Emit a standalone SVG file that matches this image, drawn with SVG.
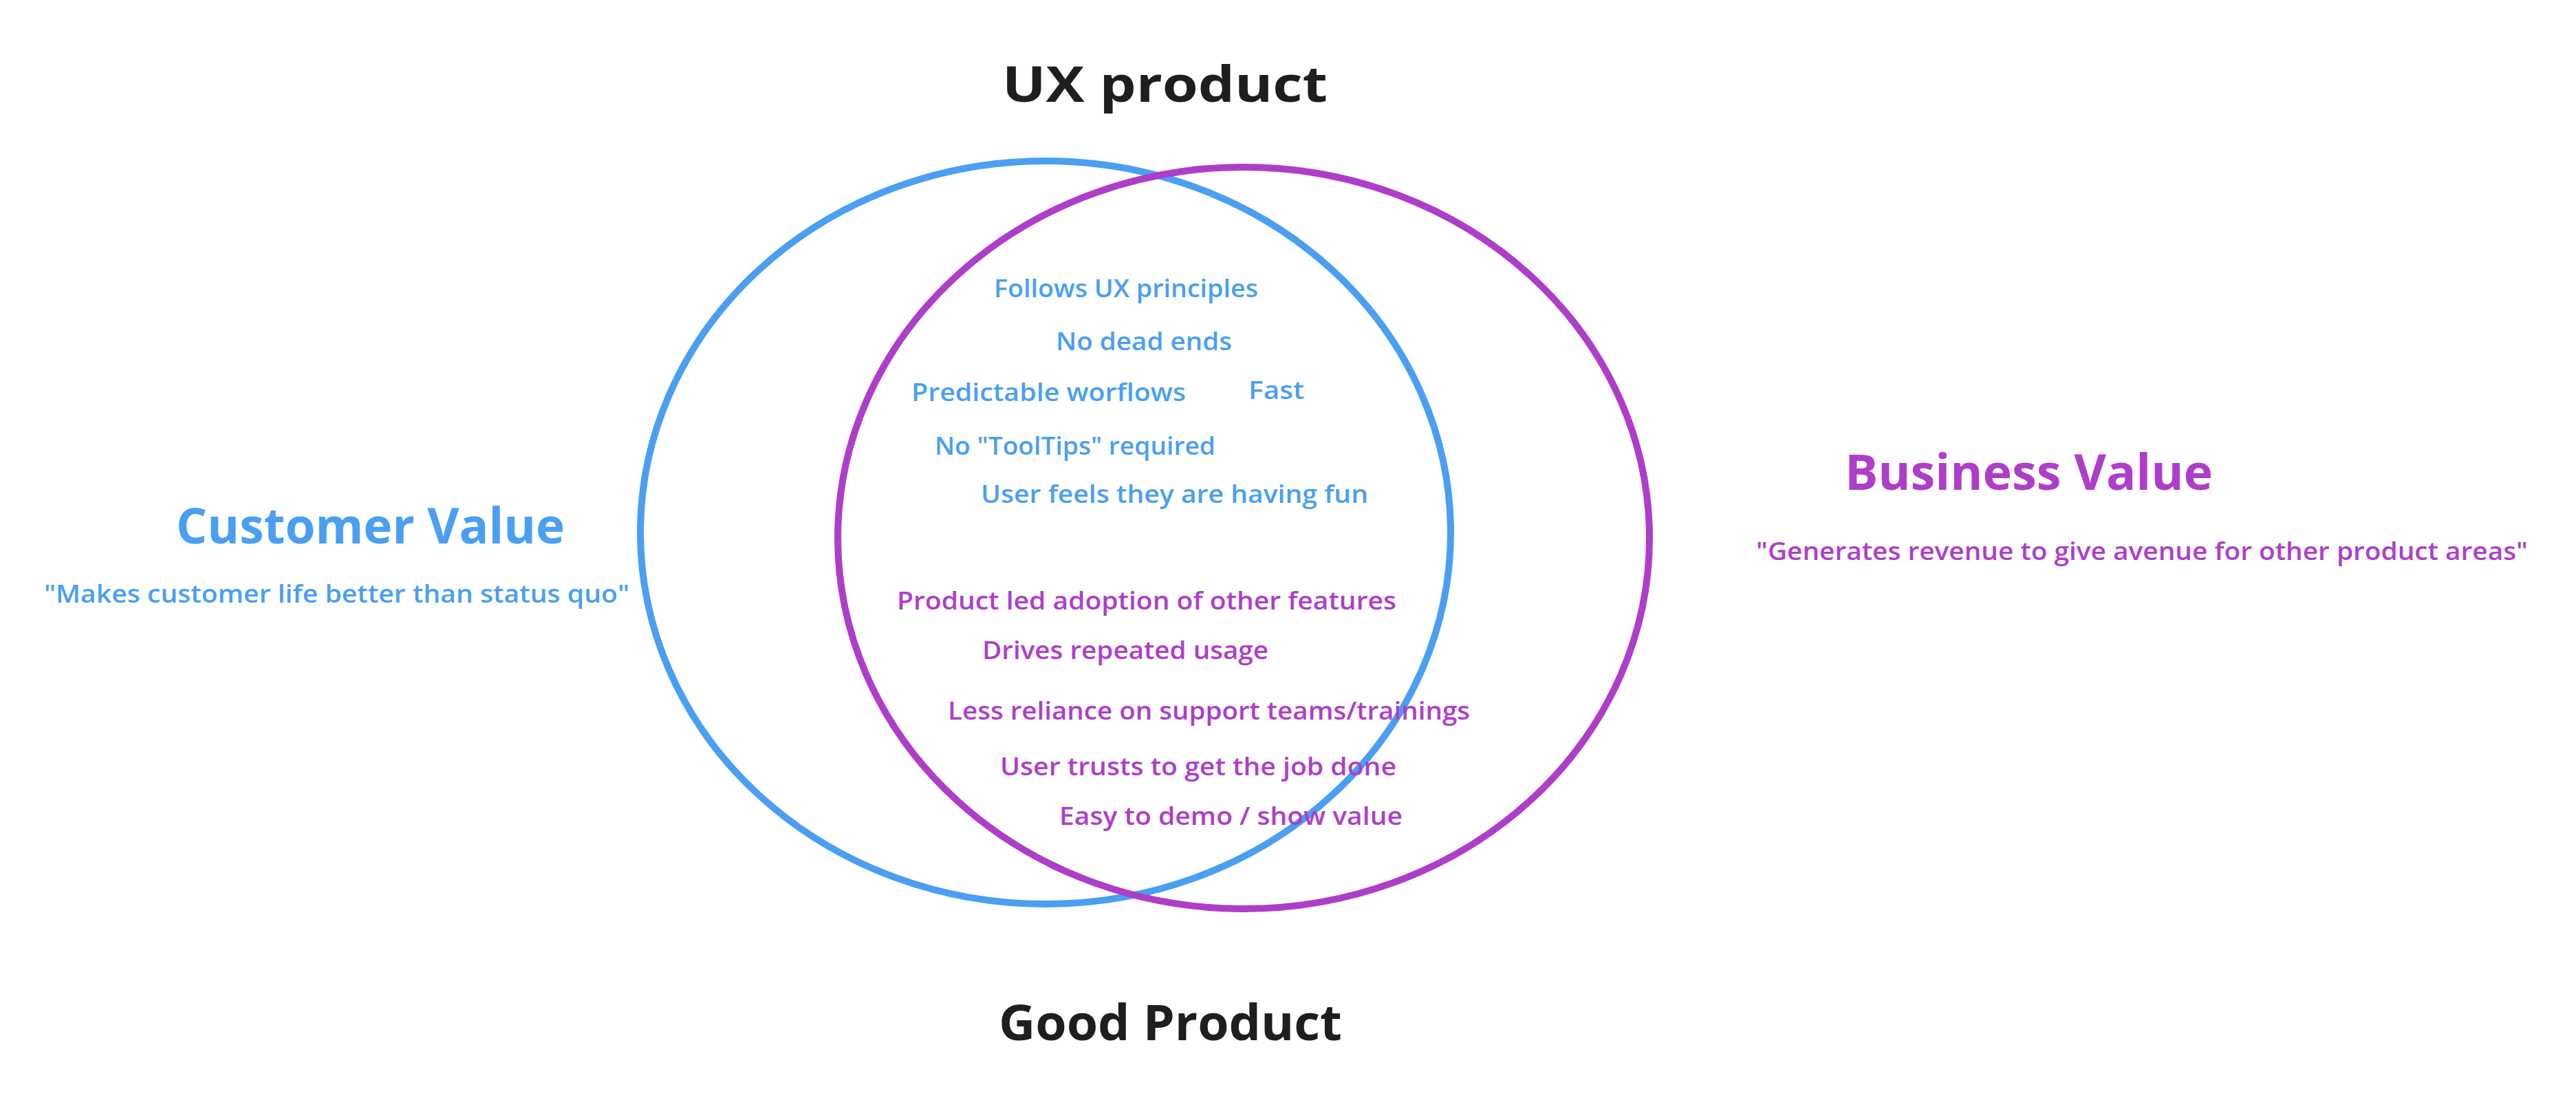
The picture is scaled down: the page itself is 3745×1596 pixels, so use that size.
<svg xmlns="http://www.w3.org/2000/svg" width="3745" height="1596" viewBox="0 0 3745 1596">
<style>
.b{fill:#4a9ff2}
.p{fill:#ae3ec9}
.k{fill:#1e1e1e}
text{font-family:"Open Sans","Noto Sans",sans-serif;font-weight:600}
.s{font-size:36px}
.h{font-size:72px;font-weight:700}
.ring{fill:none;stroke-width:10}
</style>
<rect width="3745" height="1596" fill="#ffffff"/>
<g id="connectors"></g>
<g id="customer-circle"><ellipse class="ring" cx="1520" cy="774" rx="589" ry="540" stroke="#4a9ff2"/></g>
<g id="business-circle"><ellipse class="ring" cx="1808" cy="782" rx="590" ry="539" stroke="#ae3ec9"/></g>
<g id="title-top"><text class="k h" x="1457" y="148" textLength="473" lengthAdjust="spacingAndGlyphs">UX product</text></g>
<g id="title-bottom"><text class="k h" x="1452" y="1512" textLength="499" lengthAdjust="spacingAndGlyphs">Good Product</text></g>
<g id="customer-value">
<text class="b h" x="256" y="790" textLength="565" lengthAdjust="spacingAndGlyphs">Customer Value</text>
<text class="b s" x="64" y="876" textLength="851" lengthAdjust="spacingAndGlyphs">"Makes customer life better than status quo"</text>
</g>
<g id="business-value">
<text class="p h" x="2682" y="712" textLength="535" lengthAdjust="spacingAndGlyphs">Business Value</text>
<text class="p s" x="2553" y="814" textLength="1122" lengthAdjust="spacingAndGlyphs">"Generates revenue to give avenue for other product areas"</text>
</g>
<g id="ux-items">
<text class="b s" x="1445" y="432" textLength="384" lengthAdjust="spacingAndGlyphs">Follows UX principles</text>
<text class="b s" x="1535" y="509" textLength="256" lengthAdjust="spacingAndGlyphs">No dead ends</text>
<text class="b s" x="1325" y="583" textLength="399" lengthAdjust="spacingAndGlyphs">Predictable worflows</text>
<text class="b s" x="1815" y="580" textLength="81" lengthAdjust="spacingAndGlyphs">Fast</text>
<text class="b s" x="1359" y="661" textLength="408" lengthAdjust="spacingAndGlyphs">No "ToolTips" required</text>
<text class="b s" x="1426" y="731" textLength="563" lengthAdjust="spacingAndGlyphs">User feels they are having fun</text>
</g>
<g id="business-items">
<text class="p s" x="1304" y="886" textLength="726" lengthAdjust="spacingAndGlyphs">Product led adoption of other features</text>
<text class="p s" x="1428" y="958" textLength="416" lengthAdjust="spacingAndGlyphs">Drives repeated usage</text>
<text class="p s" x="1378" y="1046" textLength="759" lengthAdjust="spacingAndGlyphs">Less reliance on support teams/trainings</text>
<text class="p s" x="1454" y="1127" textLength="576" lengthAdjust="spacingAndGlyphs">User trusts to get the job done</text>
<text class="p s" x="1540" y="1199" textLength="499" lengthAdjust="spacingAndGlyphs">Easy to demo / show value</text>
</g>
</svg>
